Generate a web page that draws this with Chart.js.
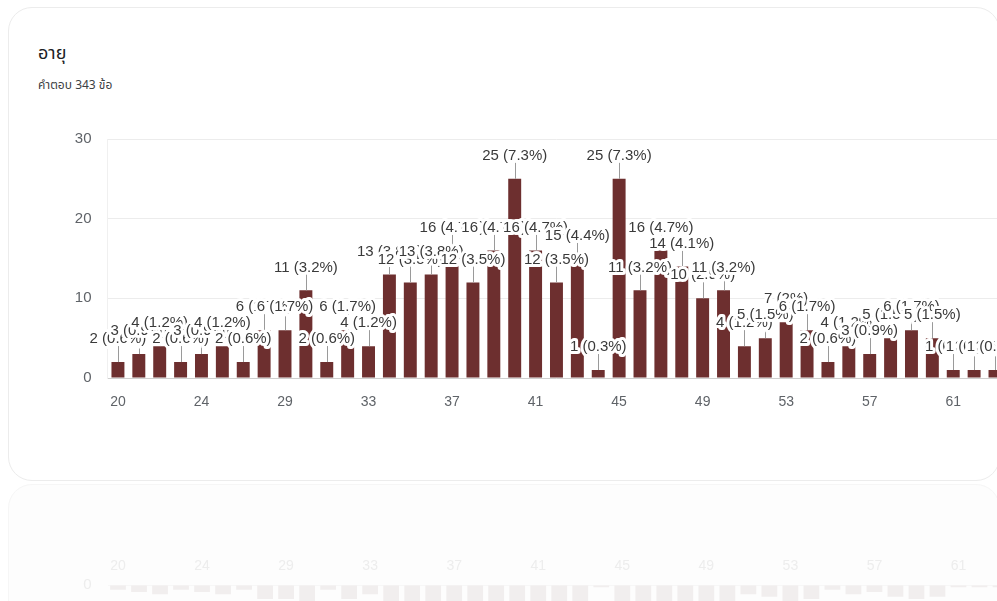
<!DOCTYPE html>
<html>
<head>
<meta charset="utf-8">
<script src="https://cdn.jsdelivr.net/npm/chart.js@4.4.1/dist/chart.umd.min.js"></script>
<style>
  html, body { margin: 0; padding: 0; background: #fff; }
  body { width: 997px; height: 601px; overflow: hidden; position: relative; font-family: "Liberation Sans", Arial, sans-serif; }
  .card { position: absolute; left: 8px; top: 7px; width: 992px; height: 474px; border: 1px solid #ececec; border-radius: 24px; box-sizing: border-box; }
  .ghost { position: absolute; left: 8px; top: 484px; width: 992px; height: 200px; border: 1px solid #f6f6f6; border-radius: 24px; background: #fdfdfd; box-sizing: border-box; }
  .title { position: absolute; left: 38px; top: 40px; font-size: 18px; color: #202124; font-family: "Noto Sans Thai", "Noto Sans", "DejaVu Sans", sans-serif; }
  .sub { position: absolute; left: 38px; top: 76px; font-size: 12px; color: #3c4043; font-family: "Noto Sans Thai", "Noto Sans", "DejaVu Sans", sans-serif; }
  #chart { position: absolute; left: 0; top: 0; }
  #ghostChart { position: absolute; left: 0; top: 480px; }
</style>
</head>
<body>
<div class="card"></div>
<div class="ghost"></div>
<div class="title">อายุ</div>
<div class="sub">คำตอบ 343 ข้อ</div>
<canvas id="chart"></canvas>
<canvas id="ghostChart"></canvas>
<script>
// ages in the order the form lists them (28 has no answers)
const ages = ['20', '21', '22', '23', '24', '25', '26', '27', '29', '30',
  '31', '32', '33', '34', '35', '36', '37', '38', '39', '40',
  '41', '42', '43', '44', '45', '46', '47', '48', '49', '50',
  '51', '52', '53', '54', '55', '56', '57', '58', '59', '60',
  '61', '62', '63'];

const counts = [2, 3, 4, 2, 3, 4, 2, 6, 6, 11,
  2, 6, 4, 13, 12, 13, 16, 12, 16, 25,
  16, 12, 15, 1, 25, 11, 16, 14, 10, 11,
  4, 5, 7, 6, 2, 4, 3, 5, 6, 5,
  1, 1, 1];

const yTicks = [0, 10, 20, 30];

const barColor = '#6d2f2f';
const total = counts.reduce((a, b) => a + b, 0);

function pctText(v) {
  let p = (v / total * 100).toFixed(1).replace(/\.0$/, '');
  return v + ' (' + p + '%)';
}

// value labels above bars, google forms style (stem + white halo, no collision fixing)
const barLabels = {
  id: 'barLabels',
  afterDatasetsDraw(chart) {
    const ctx = chart.ctx;
    const meta = chart.getDatasetMeta(0);
    ctx.save();
    ctx.font = '15px "Liberation Sans", Arial, sans-serif';
    ctx.textAlign = 'center';
    ctx.textBaseline = 'middle';

    meta.data.forEach((bar) => {
      ctx.strokeStyle = '#9a9a9a';
      ctx.lineWidth = 1;
      ctx.beginPath();
      ctx.moveTo(Math.round(bar.x) + 0.5, bar.y);
      ctx.lineTo(Math.round(bar.x) + 0.5, bar.y - 16);
      ctx.stroke();
    });

    meta.data.forEach((bar, i) => {
      const text = pctText(counts[i]);
      const y = bar.y - 23;
      ctx.lineJoin = 'round';
      ctx.strokeStyle = '#ffffff';
      ctx.lineWidth = 6;
      ctx.strokeText(text, bar.x, y);
      ctx.fillStyle = '#3a3a3a';
      ctx.fillText(text, bar.x, y);
    });
    ctx.restore();
  }
};

function xTickLabel(val, index) {
  return index % 4 === 0 ? ages[index] : '';
}

const canvas = document.getElementById('chart');
canvas.width = 1011;
canvas.height = 420;
canvas.style.width = '1011px';
canvas.style.height = '420px';

new Chart(canvas, {
  type: 'bar',
  data: {
    labels: ages,
    datasets: [{
      data: counts,
      backgroundColor: barColor,
      borderWidth: 0,
      barPercentage: 0.62,
      categoryPercentage: 1
    }]
  },
  options: {
    responsive: false,
    animation: false,
    devicePixelRatio: 1,
    layout: { padding: { top: 139, left: 0, right: 0, bottom: 0 } },
    plugins: { legend: { display: false }, tooltip: { enabled: false } },
    scales: {
      x: {
        grid: { display: false, drawTicks: false },
        border: { display: false },
        ticks: {
          autoSkip: false, maxRotation: 0, padding: 16,
          color: '#5f6368',
          font: { size: 14, family: '"Liberation Sans", Arial, sans-serif' },
          callback: xTickLabel
        },
        afterFit(scale) { scale.height = 42; }
      },
      y: {
        min: 0, max: 30,
        afterBuildTicks(scale) { scale.ticks = yTicks.map(v => ({ value: v })); },
        grid: {
          color: (c) => c.tick && c.tick.value === 0 ? '#cfcfcf' : '#ececec',
          drawTicks: false
        },
        border: { display: true, color: '#f0f0f0' },
        ticks: {
          padding: 16,
          color: '#5f6368',
          font: { size: 15, family: '"Liberation Sans", Arial, sans-serif' }
        },
        afterFit(scale) { scale.width = 107.5; }
      }
    }
  },
  plugins: [barLabels]
});

// faded copy of the next card's chart peeking in at the bottom
const ghost = document.getElementById('ghostChart');
ghost.width = 1011;
ghost.height = 200;
ghost.style.width = '1011px';
ghost.style.height = '200px';

new Chart(ghost, {
  type: 'bar',
  data: {
    labels: ages,
    datasets: [{
      data: counts,
      backgroundColor: '#f1eeee',
      borderWidth: 0,
      barPercentage: 0.75,
      categoryPercentage: 1
    }]
  },
  options: {
    responsive: false,
    animation: false,
    devicePixelRatio: 1,
    layout: { padding: { top: 72, left: 0, right: 0, bottom: 0 } },
    plugins: { legend: { display: false }, tooltip: { enabled: false } },
    scales: {
      x: {
        position: 'top',
        grid: { display: false, drawTicks: false },
        border: { display: false },
        ticks: {
          autoSkip: false, maxRotation: 0, padding: 10,
          color: '#ededed',
          font: { size: 14, family: '"Liberation Sans", Arial, sans-serif' },
          callback: xTickLabel
        },
        afterFit(scale) { scale.height = 33; }
      },
      y: {
        reverse: true, min: 0, max: 30,
        afterBuildTicks(scale) { scale.ticks = yTicks.map(v => ({ value: v })); },
        grid: { color: '#f7f7f7', drawTicks: false },
        border: { display: false },
        ticks: {
          padding: 16, color: '#ededed',
          font: { size: 15, family: '"Liberation Sans", Arial, sans-serif' }
        },
        afterFit(scale) { scale.width = 107.5; }
      }
    }
  }
});
</script>
</body>
</html>
